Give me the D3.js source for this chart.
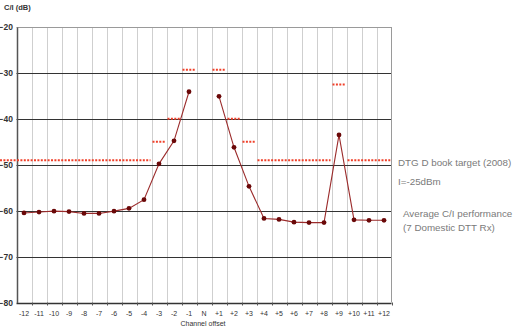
<!DOCTYPE html>
<html>
<head>
<meta charset="utf-8">
<script src="https://cdn.jsdelivr.net/npm/d3@7"></script>
<style>
  body { margin: 0; background: #fff; }
  svg { display: block; font-family: "Liberation Sans", Arial, sans-serif; }
</style>
</head>
<body>
<svg id="chart" width="517" height="327"></svg>
<script>
var channels = ['-12','-11','-10','-9','-8','-7','-6','-5','-4','-3','-2','-1','N',
                '+1','+2','+3','+4','+5','+6','+7','+8','+9','+10','+11','+12'];

// average C/I of the receivers, N has no value
var avgCI = [-60.5, -60.3, -60.1, -60.2, -60.6, -60.6, -60.1, -59.5, -57.6, -49.8, -44.8, -34.1, null,
             -35.1, -46.2, -54.7, -61.7, -61.9, -62.5, -62.6, -62.6, -43.5, -62.0, -62.1, -62.1];

// DTG D book target per channel
var target = [-49, -49, -49, -49, -49, -49, -49, -49, -49, -45, -40, -29.3, null,
              -29.3, -40, -45, -49, -49, -49, -49, -49, -32.5, -49, -49, -49];

var yTicks = [-20, -30, -40, -50, -60, -70, -80];

var legendLines = [
  { text: 'DTG D book target (2008)', x: 398, y: 166 },
  { text: 'I=-25dBm', x: 398, y: 185 },
  { text: 'Average C/I performance', x: 403, y: 217 },
  { text: '(7 Domestic DTT Rx)', x: 403, y: 231 }
];

var svg = d3.select('#chart');

var x = d3.scaleBand()
  .domain(channels)
  .range([16.5, 391.5]);

var y = d3.scaleLinear()
  .domain([-80, -20])
  .range([302.5, 27]);

var cx = function(c) { return x(c) + x.bandwidth() / 2; };

// vertical grid lines at channel boundaries
svg.append('g')
  .selectAll('line')
  .data(channels.slice(1))
  .enter().append('line')
    .attr('x1', function(d) { return Math.round(x(d)) + 0.5; })
    .attr('x2', function(d) { return Math.round(x(d)) + 0.5; })
    .attr('y1', y(-20))
    .attr('y2', y(-80))
    .attr('stroke', '#cfcfcf')
    .attr('stroke-width', 1);

// horizontal grid lines
svg.append('g')
  .selectAll('line')
  .data(yTicks)
  .enter().append('line')
    .attr('x1', x.range()[0])
    .attr('x2', x.range()[1])
    .attr('y1', function(d) { return Math.round(y(d)) + 0.5; })
    .attr('y2', function(d) { return Math.round(y(d)) + 0.5; })
    .attr('stroke', function(d) { return d === -20 ? '#9a9a9a' : '#333'; })
    .attr('stroke-width', function(d) { return d === -80 ? 1.5 : 1; });

// right border
svg.append('line')
  .attr('x1', 391.5).attr('x2', 391.5)
  .attr('y1', y(-20)).attr('y2', y(-80))
  .attr('stroke', '#9a9a9a');

// y axis
var yAxis = d3.axisLeft(y).tickValues(yTicks).tickSize(0).tickPadding(4);
var gy = svg.append('g')
  .attr('transform', 'translate(' + (x.range()[0] + 0.5) + ',0)')
  .call(yAxis);
gy.select('.domain').attr('stroke', '#555').attr('stroke-width', 1.5);
gy.selectAll('text')
  .attr('font-size', 8.5)
  .attr('font-weight', 'bold')
  .attr('fill', '#333')
  .attr('font-family', '"Liberation Sans", Arial, sans-serif');

// x axis, ticks at channel boundaries
var gx = svg.append('g')
  .attr('transform', 'translate(0,' + y(-80) + ')');
gx.selectAll('line')
  .data(channels)
  .enter().append('line')
    .attr('x1', function(d) { return Math.round(x(d) + x.bandwidth()) + 0.5; })
    .attr('x2', function(d) { return Math.round(x(d) + x.bandwidth()) + 0.5; })
    .attr('y1', 0).attr('y2', 3)
    .attr('stroke', '#555');
gx.selectAll('text')
  .data(channels)
  .enter().append('text')
    .attr('x', cx)
    .attr('y', 13)
    .attr('text-anchor', 'middle')
    .attr('font-size', 7)
    .attr('fill', '#333')
    .text(function(d) { return d; });

svg.append('text')
  .attr('x', 203).attr('y', 326)
  .attr('text-anchor', 'middle')
  .attr('font-size', 7)
  .attr('fill', '#333')
  .text('Channel offset');

svg.append('text')
  .attr('x', 4).attr('y', 10)
  .attr('font-size', 7.5)
  .attr('font-weight', 'bold')
  .attr('fill', '#333')
  .text('C/I (dB)');

// target: group equal neighbouring values into runs
var runs = [];
target.forEach(function(v, i) {
  if (v === null) return;
  var last = runs[runs.length - 1];
  if (last && last.v === v && last.end === i - 1) {
    last.end = i;
  } else {
    runs.push({ v: v, start: i, end: i });
  }
});

svg.append('g')
  .selectAll('line')
  .data(runs)
  .enter().append('line')
    .attr('x1', function(d) { return d.start === 0 ? 0 : x(channels[d.start]) + 1; })
    .attr('x2', function(d) { return x(channels[d.end]) + x.bandwidth() - 1; })
    .attr('y1', function(d) { return y(d.v); })
    .attr('y2', function(d) { return y(d.v); })
    .attr('stroke', '#f0402a')
    .attr('stroke-width', 2)
    .attr('stroke-dasharray', '2,1.4');

// average C/I line and markers
var pts = channels.map(function(c, i) { return { c: c, v: avgCI[i] }; });

var line = d3.line()
  .defined(function(d) { return d.v !== null; })
  .x(function(d) { return cx(d.c); })
  .y(function(d) { return y(d.v); });

svg.append('path')
  .datum(pts)
  .attr('d', line)
  .attr('fill', 'none')
  .attr('stroke', '#9b2b2b')
  .attr('stroke-width', 1.1);

svg.append('g')
  .selectAll('circle')
  .data(pts.filter(function(d) { return d.v !== null; }))
  .enter().append('circle')
    .attr('cx', function(d) { return cx(d.c); })
    .attr('cy', function(d) { return y(d.v); })
    .attr('r', 2.4)
    .attr('fill', '#6a0808');

// legend text
svg.append('g')
  .selectAll('text')
  .data(legendLines)
  .enter().append('text')
    .attr('x', function(d) { return d.x; })
    .attr('y', function(d) { return d.y; })
    .attr('font-size', 9.8)
    .attr('fill', '#7a7a7a')
    .text(function(d) { return d.text; });
</script>
</body>
</html>
